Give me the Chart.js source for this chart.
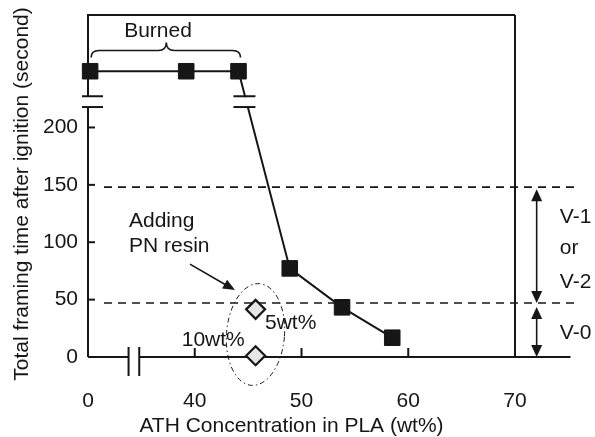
<!DOCTYPE html>
<html>
<head>
<meta charset="utf-8">
<script src="https://cdn.jsdelivr.net/npm/chart.js@4.4.0/dist/chart.umd.min.js"></script>
<style>
  html, body { margin: 0; padding: 0; background: #fff; }
  #chart { display: block; }
</style>
</head>
<body>
<canvas id="chart" width="595" height="437"></canvas>
<script>
// ATH concentration (wt%) vs total flaming time (s); x axis is broken between 0 and 40
const athConc = [0, 39.2, 44.1, 48.9, 53.8, 58.5];
const flameTime = [249, 249, 249, 77.2, 43.3, 16.8];
// samples with PN resin added (5 wt% and 10 wt%)
const pnConc = [45.7, 45.7];
const pnFlameTime = [41.5, 1.1];
const xTickValues = [30, 40, 50, 60, 70];
const xTickLabels = ['0', '40', '50', '60', '70'];
const yTickValues = [0, 50, 100, 150, 200];
const limitLines = [148, 47];   // V-1/V-2 upper limit, V-0 upper limit

const ink = '#161616';
const FONT = 'Liberation Sans, Arial, Helvetica, sans-serif';

// real wt% -> position on the broken axis (0 sits where 30 would be)
const axisX = v => (v < 30 ? v + 30.2 : v);

function line(ctx, x1, y1, x2, y2) {
    ctx.beginPath();
    ctx.moveTo(x1, y1);
    ctx.lineTo(x2, y2);
    ctx.stroke();
}

function arrowHead(ctx, x1, y1, x2, y2, len, half) {
    const ang = Math.atan2(y2 - y1, x2 - x1);
    ctx.beginPath();
    ctx.moveTo(x2, y2);
    ctx.lineTo(x2 - len * Math.cos(ang) + half * Math.sin(ang), y2 - len * Math.sin(ang) - half * Math.cos(ang));
    ctx.lineTo(x2 - len * Math.cos(ang) - half * Math.sin(ang), y2 - len * Math.sin(ang) + half * Math.cos(ang));
    ctx.closePath();
    ctx.fill();
}

const decor = {
    id: 'decor',
    beforeDatasetsDraw(chart) {
        const { ctx, chartArea: a, scales: { x, y } } = chart;
        const X = v => x.getPixelForValue(v), Y = v => y.getPixelForValue(v);
        ctx.save();
        ctx.strokeStyle = ink;

        // dashed UL-94 limits
        ctx.lineWidth = 1.6;
        ctx.setLineDash([8, 6]);
        limitLines.forEach(v => line(ctx, X(31.5), Y(v), X(75.6), Y(v)));
        ctx.setLineDash([]);

        // frame with axis breaks
        ctx.lineWidth = 2;
        const yb1 = Y(227.2), yb2 = Y(217.8);
        line(ctx, a.left, a.top, a.left, yb1);
        line(ctx, a.left, yb2, a.left, a.bottom);
        line(ctx, a.left - 1, a.top, a.right, a.top);
        line(ctx, a.right, a.top, a.right, a.bottom);
        const xb1 = X(33.8), xb2 = X(34.8);
        line(ctx, a.left, a.bottom, xb1, a.bottom);
        line(ctx, xb2, a.bottom, X(75.2), a.bottom);
        line(ctx, a.left - 6, yb1, a.left + 15, yb1);
        line(ctx, a.left - 6, yb2, a.left + 15, yb2);
        line(ctx, xb1, a.bottom - 10, xb1, a.bottom + 19);
        line(ctx, xb2, a.bottom - 10, xb2, a.bottom + 19);

        // inward tick marks
        yTickValues.slice(1).forEach(v => line(ctx, a.left, Y(v), a.left + 7, Y(v)));
        xTickValues.slice(1, 4).forEach(v => line(ctx, X(v), a.bottom, X(v), a.bottom - 9));
        ctx.restore();
    },
    afterDatasetsDraw(chart) {
        const { ctx, scales: { x, y } } = chart;
        const X = v => x.getPixelForValue(v), Y = v => y.getPixelForValue(v);
        ctx.save();
        ctx.strokeStyle = ink;
        ctx.fillStyle = ink;

        // break on the data line between the 3rd and 4th points
        const p3 = [X(axisX(athConc[2])), Y(flameTime[2])];
        const p4 = [X(axisX(athConc[3])), Y(flameTime[3])];
        const yb1 = Y(227.2), yb2 = Y(217.8);
        const xAt = yy => p3[0] + (yy - p3[1]) / (p4[1] - p3[1]) * (p4[0] - p3[0]);
        const xm = xAt((yb1 + yb2) / 2) - 2;
        ctx.fillStyle = '#fff';
        ctx.fillRect(xm - 9, yb1 + 1, 18, yb2 - yb1 - 2);
        ctx.fillStyle = ink;
        ctx.lineWidth = 2;
        line(ctx, xm - 11, yb1, xm + 11, yb1);
        line(ctx, xm - 11, yb2, xm + 11, yb2);

        // brace over the burned samples
        const bx1 = X(axisX(athConc[0])) + 1, bx2 = X(axisX(athConc[2])) + 2;
        const by = Y(flameTime[0]) - 20.7, bm = (bx1 + bx2) / 2 + 0.5;
        ctx.lineWidth = 1.6;
        ctx.beginPath();
        ctx.moveTo(bx1, by + 7);
        ctx.quadraticCurveTo(bx1, by, bx1 + 8, by);
        ctx.lineTo(bm - 8, by);
        ctx.quadraticCurveTo(bm, by, bm, by - 8);
        ctx.quadraticCurveTo(bm, by, bm + 8, by);
        ctx.lineTo(bx2 - 8, by);
        ctx.quadraticCurveTo(bx2, by, bx2, by + 7);
        ctx.stroke();

        // dash-dot ellipse round the PN resin samples
        ctx.lineWidth = 1;
        ctx.setLineDash([5, 3, 1.5, 3]);
        ctx.beginPath();
        ctx.ellipse(X(45.69), Y(19.6), 29, 51, 0.08, 0, Math.PI * 2);
        ctx.stroke();
        ctx.setLineDash([]);

        // pointer arrow to the PN resin group
        ctx.lineWidth = 1.6;
        const ax1 = X(39.55), ay1 = Y(80.9), ax2 = X(43.77), ay2 = Y(58.3);
        line(ctx, ax1, ay1, ax2 - 6, ay2 - 3.4);
        arrowHead(ctx, ax1, ay1, ax2, ay2, 12, 5);

        // V-rating arrows
        const vx = X(72.03);
        ctx.lineWidth = 1.6;
        const t1 = Y(limitLines[0]) + 2, t2 = Y(limitLines[1]), t3 = Y(limitLines[1]) + 4, t4 = Y(0);
        line(ctx, vx, t1 + 8, vx, t2 - 8);
        arrowHead(ctx, vx, t2, vx, t1, 12, 5.5);
        arrowHead(ctx, vx, t1, vx, t2, 12, 5.5);
        line(ctx, vx, t3 + 8, vx, t4 - 8);
        arrowHead(ctx, vx, t4, vx, t3, 12, 5.5);
        arrowHead(ctx, vx, t3, vx, t4, 12, 5.5);

        // annotation texts
        ctx.font = '21px ' + FONT;
        ctx.textBaseline = 'middle';
        ctx.textAlign = 'center';
        ctx.fillText('Burned', X(36.56), Y(284));
        ctx.textAlign = 'left';
        ctx.fillText('Adding', X(33.84), Y(118.5));
        ctx.fillText('PN resin', X(33.84), Y(96.5));
        ctx.fillText('5wt%', X(46.58), Y(29.6));
        ctx.fillText('10wt%', X(38.78), Y(14.8));
        ctx.fillText('V-1', X(74.2), Y(121.8));
        ctx.fillText('or', X(74.2), Y(94.9));
        ctx.fillText('V-2', X(74.2), Y(65.3));
        ctx.fillText('V-0', X(74.2), Y(20.9));
        ctx.restore();
    },
    afterDraw(chart) {
        const { ctx } = chart;
        ctx.save();
        ctx.fillStyle = ink;
        ctx.font = '21px ' + FONT;
        ctx.textAlign = 'center';
        ctx.textBaseline = 'middle';
        ctx.fillText('ATH Concentration in PLA (wt%)', 291.5, 426.5);
        ctx.translate(22.5, 194);
        ctx.rotate(-Math.PI / 2);
        ctx.fillText('Total framing time after ignition (second)', 0, 0);
        ctx.restore();
    }
};

new Chart(document.getElementById('chart'), {
    type: 'scatter',
    data: {
        datasets: [{
            label: 'PLA/ATH',
            data: athConc.map((v, i) => ({ x: axisX(v), y: flameTime[i] })),
            showLine: true,
            clip: false,
            borderColor: ink,
            borderWidth: 2,
            pointStyle: 'rect',
            pointRadius: 11,
            pointHoverRadius: 11,
            pointBackgroundColor: ink,
            pointBorderColor: ink,
            pointBorderWidth: 1
        }, {
            label: 'PLA/ATH/PN',
            data: pnConc.map((v, i) => ({ x: axisX(v), y: pnFlameTime[i] })),
            showLine: false,
            clip: false,
            pointStyle: 'rectRot',
            pointRadius: 9.5,
            pointHoverRadius: 9.5,
            pointBackgroundColor: '#e6e6e6',
            pointBorderColor: ink,
            pointBorderWidth: 2.2
        }]
    },
    options: {
        responsive: false,
        animation: false,
        devicePixelRatio: 1,
        layout: { padding: { top: 15, right: 80, left: 0, bottom: 0 } },
        plugins: {
            legend: { display: false },
            tooltip: { enabled: false }
        },
        scales: {
            x: {
                type: 'linear',
                min: 30,
                max: 70,
                grid: { display: false, drawTicks: false },
                border: { display: false },
                ticks: {
                    autoSkip: false,
                    padding: 32,
                    color: ink,
                    font: { family: FONT, size: 21 },
                    callback: v => xTickLabels[xTickValues.indexOf(v)] ?? ''
                },
                afterBuildTicks: s => { s.ticks = xTickValues.map(v => ({ value: v })); },
                afterFit: s => { s.height = 80; s.paddingLeft = 0; s.paddingRight = 0; }
            },
            y: {
                type: 'linear',
                min: 0,
                max: 298,
                grid: { display: false, drawTicks: false },
                border: { display: false },
                ticks: {
                    autoSkip: false,
                    padding: 10,
                    color: ink,
                    font: { family: FONT, size: 21 },
                    callback: v => String(v)
                },
                afterBuildTicks: s => { s.ticks = yTickValues.map(v => ({ value: v })); },
                afterFit: s => { s.width = 88; s.paddingTop = 0; s.paddingBottom = 0; }
            }
        }
    },
    plugins: [decor]
});
</script>
</body>
</html>
